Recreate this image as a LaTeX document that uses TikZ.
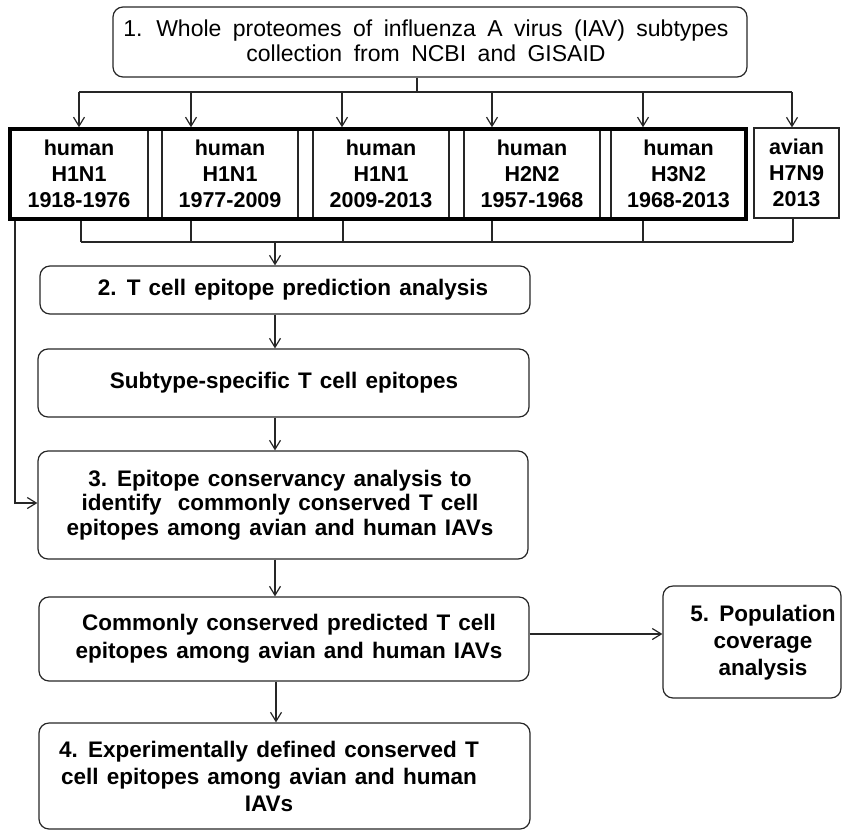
\documentclass[tikz,border=0pt]{standalone}
\usepackage{fontspec}
\setmainfont{Liberation Sans}[WordSpace=1.3]
\newfontfamily\topfont{Liberation Sans}[WordSpace=1.8]
\usetikzlibrary{arrows.meta}
\begin{document}
\begin{tikzpicture}[x=1pt,y=-1pt,
  box/.style={draw=black!85, line width=1.2pt, rounded corners=10pt, inner sep=0pt},
  sq/.style={draw=black!85, line width=1.2pt, inner sep=0pt},
  txt/.style={font=\fontsize{21.5}{26}\selectfont\bfseries, align=center, inner sep=0pt},
  ftxt/.style={align=center, inner sep=0pt},
  ln/.style={draw=black!85, line width=1.2pt},
  arr/.style={ln, -{Straight Barb[length=9pt,width=11pt,line width=1.2pt]}},
]
\useasboundingbox (0,0) rectangle (844,831);

% top box
\node[box, minimum width=634pt, minimum height=70pt] (top) at (430,42) {};
\node[ftxt, font=\topfont\fontsize{23}{25}\selectfont] (topt) at (426,41)
  {1. Whole proteomes of influenza A virus (IAV) subtypes\\collection from NCBI and GISAID};

% subtype row
\node[sq, minimum width=138pt, minimum height=90pt] (h1) at (79,174) {};
\node[sq, minimum width=136pt, minimum height=90pt] (h2) at (230,174) {};
\node[sq, minimum width=136pt, minimum height=90pt] (h3) at (381,174) {};
\node[sq, minimum width=136pt, minimum height=90pt] (h4) at (532,174) {};
\node[sq, minimum width=135pt, minimum height=90pt] (h5) at (678.5,174) {};
\node[draw=black, line width=3.5pt, inner sep=0pt, minimum width=736pt, minimum height=90pt] (human) at (378,174) {};
\node[sq, minimum width=85pt, minimum height=90pt] (av) at (796.5,173) {};

\node[txt] (h1t) at (79,174) {human\\H1N1\\1918-1976};
\node[txt] (h2t) at (230,174) {human\\H1N1\\1977-2009};
\node[txt] (h3t) at (381,174) {human\\H1N1\\2009-2013};
\node[txt] (h4t) at (532,174) {human\\H2N2\\1957-1968};
\node[txt] (h5t) at (678.5,174) {human\\H3N2\\1968-2013};
\node[txt] (avt) at (796.5,173) {avian\\H7N9\\2013};

% flow boxes
\node[box, minimum width=490pt, minimum height=48pt] (s2) at (285,290) {};
\node[ftxt, font=\fontsize{22.5}{26}\selectfont\bfseries] (s2t) at (293,290) {2. T cell epitope prediction analysis};

\node[box, minimum width=491pt, minimum height=68pt] (sub) at (283.5,383) {};
\node[ftxt, font=\fontsize{22.5}{26}\selectfont\bfseries] (subt) at (284,383) {Subtype-specific T cell epitopes};

\node[box, minimum width=490pt, minimum height=108pt] (s3) at (283,505) {};
\node[ftxt, font=\fontsize{22.5}{24.5}\selectfont\bfseries] (s3t) at (280,505)
  {3. Epitope conservancy analysis to\\identify\ \ commonly conserved T cell\\epitopes among avian and human IAVs};

\node[box, minimum width=490pt, minimum height=84pt] (s4) at (284,639) {};
\node[ftxt, font=\fontsize{22.5}{28}\selectfont\bfseries] (s4t) at (289,639)
  {Commonly conserved predicted T cell\\epitopes among avian and human IAVs};

\node[box, minimum width=178pt, minimum height=112pt] (pop) at (752,642) {};
\node[ftxt, font=\fontsize{22.5}{27}\selectfont\bfseries] (popt) at (763,643)
  {5. Population\\coverage\\analysis};

\node[box, minimum width=491pt, minimum height=106pt] (s5) at (284.5,776) {};
\node[ftxt, font=\fontsize{22.5}{27}\selectfont\bfseries] (s5t) at (269,776)
  {4. Experimentally defined conserved T\\cell epitopes among avian and human\\IAVs};

% top distribution bus
\coordinate (tb) at (417,92);
\coordinate (ta) at (79,92);
\coordinate (tbb) at (191,92);
\coordinate (tc) at (342,92);
\coordinate (td) at (492,92);
\coordinate (te) at (643,92);
\coordinate (tf) at (792,92);
\draw[ln] (top.south -| tb) -- (tb);
\draw[ln] (ta) -- (tf);
\draw[arr] (ta) -- (human.north -| ta);
\draw[arr] (tbb) -- (human.north -| tbb);
\draw[arr] (tc) -- (human.north -| tc);
\draw[arr] (td) -- (human.north -| td);
\draw[arr] (te) -- (human.north -| te);
\draw[arr] (tf) -- (av.north -| tf);

% bottom collection bus
\coordinate (ba) at (81,242);
\coordinate (bb) at (191,242);
\coordinate (bc) at (343,242);
\coordinate (bd) at (492,242);
\coordinate (be) at (643,242);
\coordinate (bf) at (793,242);
\coordinate (bm) at (275,242);
\draw[ln] (human.south -| ba) -- (ba);
\draw[ln] (human.south -| bb) -- (bb);
\draw[ln] (human.south -| bc) -- (bc);
\draw[ln] (human.south -| bd) -- (bd);
\draw[ln] (human.south -| be) -- (be);
\draw[ln] (av.south -| bf) -- (bf);
\draw[ln] (ba) -- (bf);
\draw[arr] (bm) -- (s2.north -| bm);

% left bypass
\coordinate (lx) at (15,503);
\draw[arr] (human.south -| lx) -- (lx) -- (s3.west |- lx);

% main column
\coordinate (vx) at (275,0);
\coordinate (vx2) at (276,0);
\draw[arr] (s2.south -| vx) -- (sub.north -| vx);
\draw[arr] (sub.south -| vx) -- (s3.north -| vx);
\draw[arr] (s3.south -| vx) -- (s4.north -| vx);
\draw[arr] (s4.south -| vx2) -- (s5.north -| vx2);

% to population coverage
\coordinate (hy) at (0,634);
\draw[arr] (s4.east |- hy) -- (pop.west |- hy);
\end{tikzpicture}
\end{document}
